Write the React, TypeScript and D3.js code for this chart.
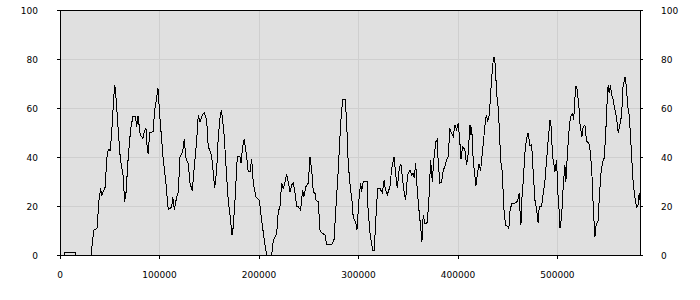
import React from "react";
import * as d3 from "d3";

// x positions (data units) and values
const xs: number[] = [
  0, 4000, 5000, 15100, 16100, 31500, 32500, 34200, 37200, 39200, 40900, 41900, 43500, 45200, 47500, 48900, 50600,
  52300, 54300, 55000, 56000, 58300, 60600, 63300, 65000, 66300, 68600, 71100, 73400, 75700, 77100, 78400, 80700,
  83400, 84400, 86400, 87700, 88700, 90100, 93500, 95200, 97800, 98500, 100500, 102200, 103800, 106200, 108800,
  112300, 113300, 114900, 117300, 118900, 120600, 123300, 124900, 126600, 128900, 130700, 133000, 135000, 137400,
  139000, 140700, 143000, 145000, 147400, 149000, 150800, 152500, 154100, 155500, 157500, 159100, 160800, 162100,
  163500, 165100, 167500, 169100, 170900, 172900, 174200, 175900, 178200, 180900, 181900, 183600, 185200, 187600,
  189200, 191000, 192700, 194300, 197000, 200300, 202700, 205300, 207700, 212800, 214400, 217800, 219400, 221100,
  222800, 224400, 226100, 227800, 229400, 231200, 232900, 234500, 236200, 237900, 239500, 241900, 243900, 245200,
  247200, 249500, 251300, 253000, 254600, 256300, 257300, 259600, 261300, 263000, 266300, 268000, 273100, 275400,
  277400, 279700, 282100, 284100, 286700, 288100, 289700, 292200, 293200, 294800, 297200, 298500, 300500, 302200,
  303200, 304800, 308800, 309500, 311600, 314300, 315900, 317600, 319300, 321600, 323900, 325900, 326900, 328900,
  331700, 333400, 335700, 337400, 339000, 341000, 342700, 344400, 345400, 347400, 349400, 351800, 353500, 355100,
  356100, 357500, 359100, 360800, 362500, 363800, 365100, 366800, 369100, 370800, 372500, 374200, 375900, 377900,
  379200, 380200, 381900, 383600, 385200, 386900, 388600, 390200, 391900, 393600, 395200, 397000, 398700, 400300,
  402000, 403000, 404700, 407000, 408700, 410300, 412100, 413100, 413800, 415400, 417100, 418100, 419400, 421100,
  422800, 424100, 426100, 427800, 428800, 429800, 431500, 432900, 434500, 435500, 436500, 437500, 438900, 440500,
  441500, 442900, 444900, 445500, 446500, 447900, 449500, 451200, 452300, 454000, 455600, 459000, 460600, 461600,
  462300, 463300, 464600, 465600, 467300, 469000, 470600, 472400, 474100, 475700, 477400, 479100, 480700, 481700,
  484100, 485700, 487400, 489100, 490700, 492500, 493500, 495200, 496800, 497500, 499200, 500200, 501500, 502500,
  504200, 505800, 507500, 508500, 510200, 511800, 513200, 515300, 516300, 517600, 518600, 519900, 521600, 522900,
  524600, 525900, 527600, 529300, 531600, 533300, 535000, 536000, 537700, 539000, 540700, 542000, 543700, 545400,
  547000, 548400, 549700, 551000, 552000, 553400, 554400, 556000, 557800, 559500, 561100, 562800, 564500, 566100,
  567100, 568100, 569500, 570500, 572100, 573500, 574500, 576100, 577800, 579500, 580900, 582200, 582900,
];

const values: number[] = [
  0, 0, 1.1, 1.1, 0, 0, 5.4, 10.2, 10.9, 22.4, 27.2, 24, 26.2, 27.2, 41.5, 43.1, 42.6,
  52.4, 66, 69.4, 66, 52.4, 39.5, 32.7, 21.8, 25.2, 40.1, 51.7, 56.7, 56.7, 52.4, 56.7, 49,
  47.6, 49.9, 51.7, 43.5, 41.2, 49.9, 50.3, 59.2, 66, 68, 55.8, 46.9, 38.8, 30.6, 18.4,
  19.7, 23.8, 18.4, 23.8, 25.8, 40.1, 42.2, 47.2, 39.5, 37.4, 29.3, 26.2, 36, 46.9,
  57.1, 54.4, 57.1, 58.1, 55.1, 44.2, 42.6, 40.1, 33.3, 27.2, 34.7, 48.3, 55.8, 59.2,
  55.1, 48.3, 32, 22.4, 16.3, 8.2, 11.6, 22.4, 40.1, 40.1, 37.4, 44.2, 47.2, 40.1,
  34, 34, 39.1, 29.3, 23.8, 22.4, 14.3, 6.1, 0, 0, 6.1, 8.8, 17.7, 19.7,
  29.3, 27.2, 29.5, 33, 29.9, 25.8, 28.6, 29.5, 25.2, 19.7, 19.7, 18.4, 26.5, 23.8,
  27.9, 29.3, 39.9, 34.7, 25.8, 25.2, 22.4, 21.8, 10.2, 9.1, 8.2, 4.1, 4.1, 6.1,
  19.7, 34.7, 53.7, 63.3, 63.3, 54.4, 37.4, 25.8, 23.8, 15, 13.6, 10.2, 22.4, 29.5,
  25.8, 29.9, 29.9, 19.7, 8.8, 2, 2, 15.6, 27.2, 27.2, 25.4, 30.6, 27.2, 24.5,
  27.9, 35.4, 40.1, 33.3, 27.2, 35.4, 37.1, 30.6, 27.2, 22.4, 32.7, 34.7, 32.7, 33.3,
  31.3, 37.4, 26.5, 18.4, 11.6, 5.4, 16.3, 12.7, 13.2, 22.4, 38.8, 29.9, 39.5, 46.3,
  47.2, 37.4, 29.3, 29.9, 34.7, 36, 38.8, 40.1, 51.7, 49.7, 48.3, 53.1, 51, 54,
  45.6, 39.1, 44.2, 42.9, 36.7, 41.5, 53.1, 49, 52.4, 38.1, 32, 28.2, 32.7, 37.1,
  34.4, 40.1, 48.3, 55.8, 57.1, 54.4, 57.1, 66, 75.5, 79.6, 80.9, 77.6, 66, 59.9,
  52.4, 38.8, 32.7, 23.8, 17, 12.2, 11.8, 10.9, 17.7, 21.1, 21.1, 21.4, 23.1, 25.2,
  18.4, 12.2, 25.8, 29.9, 41.5, 47.6, 49.9, 44.5, 45.2, 33.3, 22.4, 18.4, 12.9, 19.7,
  19.7, 25.2, 29.9, 38.8, 46.9, 55.1, 53.1, 40.1, 36, 34, 38.8, 26.5, 19.7, 10.9,
  15.6, 27.9, 36.7, 29.9, 42.2, 51.7, 56.5, 57.8, 55.1, 64, 69, 67.6, 60.5, 52.4,
  48.3, 52.4, 53.1, 46.3, 45.8, 41.5, 30.6, 19.7, 7.5, 12.9, 13.2, 22.4, 33.3, 38.1,
  39.5, 48.3, 60.5, 69.4, 66, 69.4, 65.3, 63.5, 59.2, 55.8, 49.7, 53.1, 57.1, 70.1,
  70.7, 72.8, 68, 61.2, 57.1, 48.3, 40.8, 29.9, 23.8, 19.4, 20, 25.2, 22.4,
];

const xTicks: number[] = [0, 100000, 200000, 300000, 400000, 500000];
const yTicks: number[] = [0, 20, 40, 60, 80, 100];
const xMax = 583000;

export default function App() {
  const W = 700;
  const H = 300;
  const left = 60, right = 640, top = 10, bottom = 255;
  const x = d3.scaleLinear().domain([0, xMax]).range([left, right]);
  const y = d3.scaleLinear().domain([0, 100]).range([bottom, top]);
  const line = d3
    .line<number>()
    .x((_, i) => x(xs[i]))
    .y((d) => y(d));
  const font = "'DejaVu Sans', Verdana, sans-serif";
  return (
    <svg
      width={W}
      height={H}
      style={{ position: "absolute", left: 0, top: 0, background: "#fff" }}
      fontFamily={font}
      fontSize={9}
    >
      <rect x={left} y={top} width={right - left} height={bottom - top} fill="#e0e0e0" />
      {yTicks.map((t) => (
        <line key={"gy" + t} x1={left} x2={right} y1={y(t) + 0.5} y2={y(t) + 0.5} stroke="#cfcfcf" strokeWidth={1} />
      ))}
      {xTicks.map((t) => (
        <line key={"gx" + t} x1={Math.round(x(t)) + 0.5} x2={Math.round(x(t)) + 0.5} y1={top} y2={bottom} stroke="#cfcfcf" strokeWidth={1} />
      ))}
      <path d={line(values) || ""} fill="none" stroke="#000" strokeWidth={1} shapeRendering="crispEdges" />
      <rect x={left + 0.5} y={top + 0.5} width={right - left} height={bottom - top} fill="none" stroke="#000" strokeWidth={1} />
      {yTicks.map((t) => (
        <g key={"ty" + t}>
          <line x1={left - 3} x2={left} y1={y(t) + 0.5} y2={y(t) + 0.5} stroke="#000" />
          <line x1={right} x2={right + 3} y1={y(t) + 0.5} y2={y(t) + 0.5} stroke="#000" />
          <text x={38} y={y(t) + 3.5} textAnchor="end" fill="#000">{t}</text>
          <text x={661} y={y(t) + 3.5} textAnchor="start" fill="#000">{t}</text>
        </g>
      ))}
      {xTicks.map((t) => (
        <g key={"tx" + t}>
          <line x1={Math.round(x(t)) + 0.5} x2={Math.round(x(t)) + 0.5} y1={bottom} y2={bottom + 4} stroke="#000" />
          <text x={x(t)} y={277.5} textAnchor="middle" fill="#000">{t}</text>
        </g>
      ))}
    </svg>
  );
}
